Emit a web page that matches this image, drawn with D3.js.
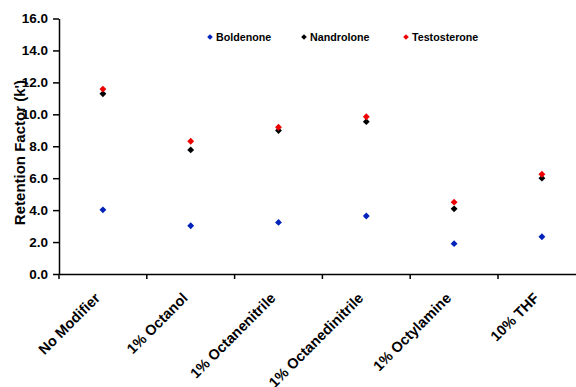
<!DOCTYPE html>
<html><head><meta charset="utf-8">
<script src="https://cdn.jsdelivr.net/npm/d3@7"></script>
<style>body{margin:0;background:#fff}svg{display:block;font-family:"Liberation Sans",Arial,sans-serif;font-weight:bold}</style>
</head><body><svg id="c" width="576" height="387"></svg>
<script>
const categories = ["No Modifier","1% Octanol","1% Octanenitrile","1% Octanedinitrile","1% Octylamine","10% THF"];
const boldenone = [4.02, 3.02, 3.23, 3.63, 1.90, 2.33];
const nandrolone = [11.29, 7.77, 8.98, 9.54, 4.08, 6.0];
const testosterone = [11.58, 8.31, 9.19, 9.85, 4.50, 6.25];
const seriesNames = ["Boldenone","Nandrolone","Testosterone"];
const seriesColors = ["#0022bb","#000000","#ee0000"];
const yTicks = [0,2,4,6,8,10,12,14,16];

(function(){
const svg = d3.select("#c");
const mLeft = 59, mTop = 18.5, mBottom = 274;
const step = 87.8;
const x = d3.scaleBand().domain(categories).range([mLeft, mLeft + step*categories.length]).padding(0);
const y = d3.scaleLinear().domain([0,16]).range([mBottom, mTop]);

// y axis
const ya = svg.append("g").attr("transform",`translate(${mLeft},0)`)
  .call(d3.axisLeft(y).tickValues(yTicks).tickFormat(d3.format(".1f")).tickSize(6).tickSizeOuter(0));
ya.select(".domain").attr("stroke","#000").attr("stroke-width",1.5);
ya.selectAll(".tick line").attr("stroke","#000").attr("stroke-width",1.5);
ya.selectAll(".tick text").attr("font-size",13.5).attr("font-weight","bold").attr("fill","#000")
  .attr("font-family","Liberation Sans, Arial, sans-serif").attr("x",-11);

// x axis
const xa = svg.append("g").attr("transform",`translate(0,${mBottom})`)
  .call(d3.axisBottom(x).tickSize(0).tickSizeOuter(0).tickFormat(""));
xa.select(".domain").attr("stroke","#000").attr("stroke-width",1.5);
const edges = d3.range(categories.length+1).map(i => mLeft + i*step);
xa.selectAll(".edge").data(edges).enter().append("line")
  .attr("x1",d=>d).attr("x2",d=>d).attr("y1",0).attr("y2",5)
  .attr("stroke","#000").attr("stroke-width",1.5);
xa.selectAll(".lab").data(categories).enter().append("text")
  .attr("transform",d=>`translate(${x(d)+x.bandwidth()/2-2},${25}) rotate(-45)`)
  .attr("text-anchor","end").attr("font-size",14.5).attr("font-weight","bold").attr("fill","#000")
  .text(d=>d);

// y title
svg.append("text").attr("transform",`translate(25,152.5) rotate(-90)`)
  .attr("text-anchor","middle").attr("font-size",15).attr("fill","#000").text("Retention Factor (k')");

// points
const allSeries = [boldenone, nandrolone, testosterone];
const sym = d3.symbol().type(d3.symbolDiamond2).size(30);
allSeries.forEach((vals, si) => {
  svg.append("g").selectAll("path").data(vals).enter().append("path")
    .attr("d", sym)
    .attr("transform",(d,i)=>`translate(${x(categories[i])+x.bandwidth()/2},${y(d)})`)
    .attr("fill", seriesColors[si]);
});

// legend
const legX = [210, 304, 406];
seriesNames.forEach((n,i)=>{
  svg.append("path").attr("d", d3.symbol().type(d3.symbolDiamond2).size(20)())
    .attr("transform",`translate(${legX[i]},37)`).attr("fill",seriesColors[i]);
  svg.append("text").attr("x",legX[i]+6).attr("y",40.8).attr("font-size",10.7).attr("fill","#000").text(n);
});
})();
</script></body></html>
